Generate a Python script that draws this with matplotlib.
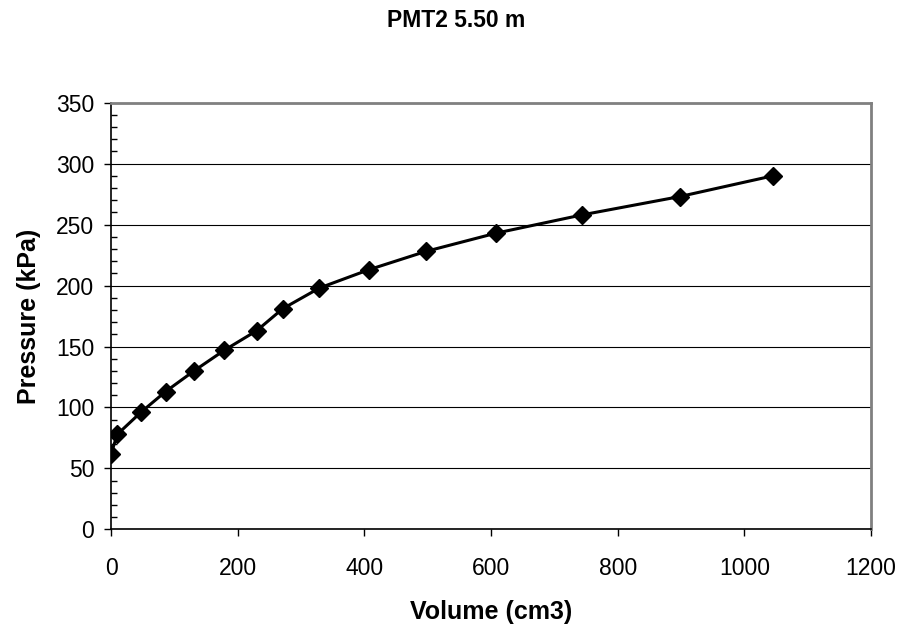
import numpy as np
import matplotlib.pyplot as plt
from matplotlib.ticker import MultipleLocator

plt.rcParams['font.family'] = ['Liberation Sans', 'DejaVu Sans']

# volume (cm3) and pressure (kPa)
volume = [0, 10, 47, 86, 131, 179, 230, 271, 329, 407, 497, 608, 744, 898, 1045]
pressure = [62, 78, 96, 113, 130, 147, 163, 181, 198, 213, 228, 243, 258, 273, 290]

fig = plt.figure(figsize=(8.99, 6.28), dpi=100)
ax = fig.add_axes([0.1235, 0.157, 0.8455, 0.6795])

ax.plot(volume, pressure, color='black', linewidth=2.2, marker='D',
        markersize=9, markerfacecolor='black', markeredgecolor='black', zorder=3)

ax.set_xlim(0, 1200)
ax.set_ylim(0, 350)
ax.xaxis.set_major_locator(MultipleLocator(200))
ax.yaxis.set_major_locator(MultipleLocator(50))
ax.yaxis.set_minor_locator(MultipleLocator(10))

ax.grid(axis='y', which='major', color='black', linewidth=0.8)
ax.set_axisbelow(True)

for side in ['top', 'right']:
    ax.spines[side].set_color('#808080')
    ax.spines[side].set_linewidth(2)
for side in ['left', 'bottom']:
    ax.spines[side].set_color('black')
    ax.spines[side].set_linewidth(1.2)

ax.tick_params(axis='both', which='major', direction='out', length=5,
               width=1, labelsize=16.5, pad=7)
ax.tick_params(axis='y', which='minor', direction='in', length=4, width=1)
ax.tick_params(axis='x', which='major', pad=15)

ax.set_xlabel('Volume (cm3)', fontsize=18, fontweight='bold', labelpad=14)
ax.set_ylabel('Pressure (kPa)', fontsize=18, fontweight='bold', labelpad=11)
fig.text(0.507, 0.9666, 'PMT2 5.50 m', fontsize=16.5, fontweight='bold',
         ha='center', va='center')

fig.savefig('out.png', dpi=100)
plt.close()
